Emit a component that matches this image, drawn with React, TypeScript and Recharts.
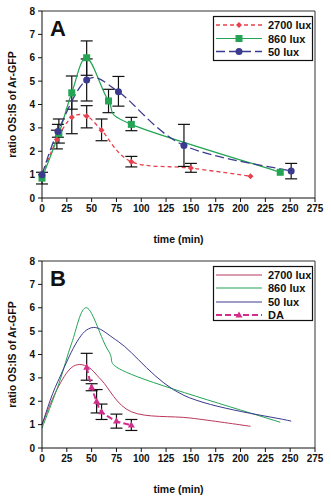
import { ErrorBar, Line, LineChart, ReferenceLine, XAxis, YAxis } from 'recharts';

const X_TICKS = [0, 25, 50, 75, 100, 125, 150, 175, 200, 225, 250, 275];
const Y_TICKS = [0, 1, 2, 3, 4, 5, 6, 7, 8];

// 2700 lux
const T2700 = [0, 15, 30, 45, 60, 90, 150, 210];
const V2700 = [1.0, 2.5, 3.45, 3.5, 2.9, 1.55, 1.28, 0.93];
const LO2700 = [null, 2.1, 2.75, 3.0, 2.45, 1.33, 1.1, null];
const HI2700 = [null, 2.9, 4.15, 3.95, 3.38, 1.78, 1.48, null];

// 860 lux
const T860 = [0, 17, 30, 45, 67, 90, 240];
const V860 = [0.85, 2.75, 4.5, 6.0, 4.15, 3.15, 1.1];
const LO860 = [0.6, 2.35, 3.8, 5.25, 3.65, 2.88, null];
const HI860 = [1.1, 3.38, 5.22, 6.72, 4.65, 3.45, null];

// 50 lux
const T50 = [0, 16, 45, 77, 143, 251];
const V50 = [1.0, 2.85, 5.05, 4.55, 2.25, 1.15];
const LO50 = [null, 2.6, 4.15, 3.93, 1.35, 0.82];
const HI50 = [null, 3.15, 5.95, 5.2, 3.15, 1.48];

// DA
const TDA = [45, 50, 55, 60, 75, 90];
const VDA = [3.45, 2.6, 2.0, 1.55, 1.15, 0.98];
const LODA = [2.9, 2.45, 1.5, 1.22, 0.85, 0.75];
const HIDA = [4.05, 2.75, 2.5, 1.88, 1.45, 1.22];

const RED = '#e8404c';
const RED_B = '#b8385a';
const GREEN = '#24a454';
const PURPLE = '#3a3a8e';
const MAGENTA = '#d42c8c';
const FONT = '"Liberation Sans", Arial, sans-serif';

type Num = number | null;

function rows(t: number[], v: number[], lo: Num[], hi: Num[]) {
  return t.map((x, i) => ({
    x,
    y: v[i],
    err: lo[i] == null || hi[i] == null ? undefined : [v[i] - (lo[i] as number), (hi[i] as number) - v[i]]
  }));
}

const D2700 = rows(T2700, V2700, LO2700, HI2700);
const D860 = rows(T860, V860, LO860, HI860);
const D50 = rows(T50, V50, LO50, HI50);
const DDA = rows(TDA, VDA, LODA, HIDA);

// Excel-like smoothed line (Catmull-Rom through points)
function smooth(context: any) {
  let pts: number[][] = [];
  return {
    areaStart() {},
    areaEnd() {},
    lineStart() {
      pts = [];
    },
    point(x: number, y: number) {
      pts.push([+x, +y]);
    },
    lineEnd() {
      const n = pts.length;
      if (!n) return;
      context.moveTo(pts[0][0], pts[0][1]);
      for (let i = 0; i < n - 1; i++) {
        const p0 = pts[i - 1] || pts[i];
        const p1 = pts[i];
        const p2 = pts[i + 1];
        const p3 = pts[i + 2] || p2;
        context.bezierCurveTo(
          p1[0] + (p2[0] - p0[0]) / 6,
          p1[1] + (p2[1] - p0[1]) / 6,
          p2[0] - (p3[0] - p1[0]) / 6,
          p2[1] - (p3[1] - p1[1]) / 6,
          p2[0],
          p2[1]
        );
      }
    }
  };
}

function marker(kind: string, cx: number, cy: number, fill: string, key?: any) {
  if (kind === 'diamond')
    return <path key={key} d={`M${cx},${cy - 3}L${cx + 3},${cy}L${cx},${cy + 3}L${cx - 3},${cy}Z`} fill={fill} />;
  if (kind === 'square') return <rect key={key} x={cx - 3.5} y={cy - 3.5} width={7} height={7} fill={fill} />;
  if (kind === 'circle') return <circle key={key} cx={cx} cy={cy} r={3.5} fill={fill} />;
  if (kind === 'triangle')
    return <path key={key} d={`M${cx},${cy - 3.5}L${cx + 3.5},${cy + 2.5}L${cx - 3.5},${cy + 2.5}Z`} fill={fill} />;
  return null;
}

const dotOf = (kind: string, fill: string) => (p: any) =>
  p.cx == null ? <g key={p.index} /> : marker(kind, p.cx, p.cy, fill, p.index);

const tick = { fontSize: 10, fontWeight: 700, fill: '#111', fontFamily: FONT };

type LegendItem = { name: string; color: string; dash?: string; width?: number; kind?: string };

function Panel({ letter, b }: { letter: string; b: boolean }) {
  const legend: LegendItem[] = b
    ? [
        { name: '2700 lux', color: RED_B },
        { name: '860 lux', color: GREEN },
        { name: '50 lux', color: PURPLE },
        { name: 'DA', color: MAGENTA, dash: '6 3', width: 2, kind: 'triangle' }
      ]
    : [
        { name: '2700 lux', color: RED, dash: '4 3', width: 1.3, kind: 'diamond' },
        { name: '860 lux', color: GREEN, width: 1.2, kind: 'square' },
        { name: '50 lux', color: PURPLE, dash: '9 4', width: 1.3, kind: 'circle' }
      ];
  const rowY = b ? [25, 38, 52, 65] : [25, 38.5, 51.5];
  const boxH = b ? 54 : 44;
  const bar = <ErrorBar dataKey="err" direction="y" width={6} stroke="#111" strokeWidth={1.2} />;

  return (
    <div style={{ position: 'relative', width: 331, height: 250 }}>
      <LineChart width={331} height={250} margin={{ top: 11, right: 16, left: 0, bottom: 0 }}>
        <XAxis
          type="number"
          dataKey="x"
          domain={[0, 275]}
          ticks={X_TICKS}
          interval={0}
          height={52}
          tick={tick}
          tickSize={4}
          tickMargin={3}
          axisLine={{ stroke: '#111' }}
          tickLine={{ stroke: '#111' }}
          label={{ value: 'time (min)', position: 'insideBottom', offset: 7, style: { ...tick, fontSize: 10.5 } }}
        />
        <YAxis
          type="number"
          domain={[0, 8]}
          ticks={Y_TICKS}
          interval={0}
          width={42}
          tick={tick}
          tickSize={4}
          tickMargin={3}
          axisLine={{ stroke: '#111' }}
          tickLine={{ stroke: '#111' }}
          label={{
            value: 'ratio OS:IS of Ar-GFP',
            angle: -90,
            position: 'insideLeft',
            offset: 12,
            style: { ...tick, fontSize: 10.5, textAnchor: 'middle' }
          }}
        />
        <ReferenceLine y={8} stroke="#333" />
        <ReferenceLine x={275} stroke="#333" />
        {b ? (
          <>
            <Line data={D2700} dataKey="y" type={smooth as any} stroke={RED_B} strokeWidth={1} dot={false} isAnimationActive={false} />
            <Line data={D860} dataKey="y" type={smooth as any} stroke={GREEN} strokeWidth={1} dot={false} isAnimationActive={false} />
            <Line data={D50} dataKey="y" type={smooth as any} stroke={PURPLE} strokeWidth={1} dot={false} isAnimationActive={false} />
            <Line
              data={DDA}
              dataKey="y"
              type={smooth as any}
              stroke={MAGENTA}
              strokeWidth={2}
              strokeDasharray="6 3"
              dot={dotOf('triangle', MAGENTA)}
              isAnimationActive={false}
            >
              {bar}
            </Line>
          </>
        ) : (
          <>
            <Line
              data={D2700}
              dataKey="y"
              type={smooth as any}
              stroke={RED}
              strokeWidth={1.3}
              strokeDasharray="4 3"
              dot={dotOf('diamond', RED)}
              isAnimationActive={false}
            >
              {bar}
            </Line>
            <Line
              data={D860}
              dataKey="y"
              type={smooth as any}
              stroke={GREEN}
              strokeWidth={1.2}
              dot={dotOf('square', GREEN)}
              isAnimationActive={false}
            >
              {bar}
            </Line>
            <Line
              data={D50}
              dataKey="y"
              type={smooth as any}
              stroke={PURPLE}
              strokeWidth={1.3}
              strokeDasharray="9 4"
              dot={dotOf('circle', PURPLE)}
              isAnimationActive={false}
            >
              {bar}
            </Line>
          </>
        )}
      </LineChart>
      <svg width={331} height={250} style={{ position: 'absolute', left: 0, top: 0, pointerEvents: 'none' }}>
        <text x={50} y={36} fontSize={22} fontWeight={700} fontFamily={FONT} fill="#111">
          {letter}
        </text>
        <rect x={213.5} y={16.5} width={99} height={boxH} fill="#fff" stroke="#111" strokeWidth={1.2} />
        {legend.map((it, i) => (
          <g key={it.name}>
            <line
              x1={216}
              x2={262}
              y1={rowY[i]}
              y2={rowY[i]}
              stroke={it.color}
              strokeWidth={it.width || 1}
              strokeDasharray={it.dash}
            />
            {it.kind ? marker(it.kind, 239, rowY[i], it.color) : null}
            <text x={268} y={rowY[i] + 4} fontSize={11} fontWeight={700} fontFamily={FONT} fill="#111">
              {it.name}
            </text>
          </g>
        ))}
      </svg>
    </div>
  );
}

export default function App() {
  return (
    <div style={{ position: 'absolute', left: 0, top: 0, width: 331, height: 500, background: '#fff' }}>
      <Panel letter="A" b={false} />
      <Panel letter="B" b={true} />
    </div>
  );
}
